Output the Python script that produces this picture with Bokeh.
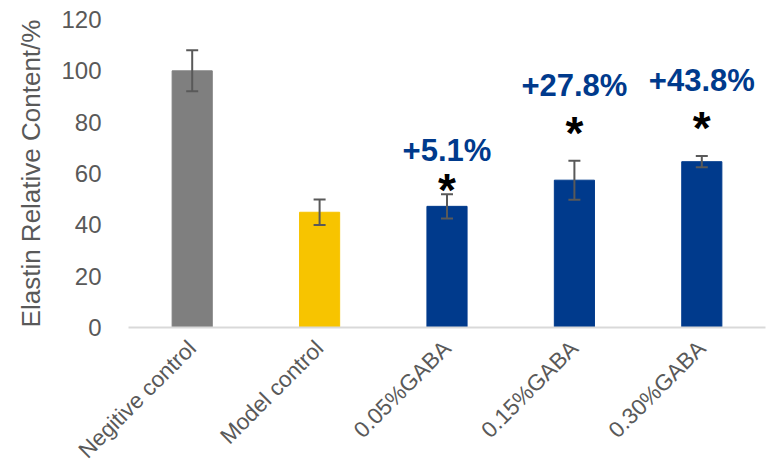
import math
from bokeh.plotting import figure
from bokeh.models import ColumnDataSource, Whisker, TeeHead, FactorRange, Range1d, FixedTicker
from bokeh.core.properties import value
from bokeh.embed import file_html
from bokeh.resources import INLINE

categories = ["Negitive control", "Model control", "0.05%GABA", "0.15%GABA", "0.30%GABA"]
values = [100, 44.9, 47.2, 57.4, 64.6]
errors = [8, 5, 4.7, 7.6, 2.2]
colors = ["#7F7F7F", "#F7C400", "#003A8C", "#003A8C", "#003A8C"]

ann_cats = ["0.05%GABA", "0.15%GABA", "0.30%GABA"]
ann_texts = ["+5.1%", "+27.8%", "+43.8%"]
ann_y = [68.9, 94.2, 96.1]
star_y = [53.7, 75.9, 77.6]
y_ticks = [0, 20, 40, 60, 80, 100, 120]

src = ColumnDataSource(dict(
    cat=categories, val=values, col=colors,
    upper=[v + e for v, e in zip(values, errors)],
    lower=[v - e for v, e in zip(values, errors)],
))

p = figure(x_range=FactorRange(*categories, range_padding=0), y_range=Range1d(0, 120),
           width=771, height=474, output_backend="svg", toolbar_location=None,
           min_border_left=128, min_border_right=6, min_border_top=19, min_border_bottom=147)
p.outline_line_color = None
p.grid.grid_line_color = None
p.background_fill_color = "white"

p.vbar(x="cat", top="val", width=0.315, color="col", source=src)

w = Whisker(base="cat", upper="upper", lower="lower", source=src,
            line_color="#595959", line_width=2, level="overlay")
w.upper_head = TeeHead(size=12, line_color="#595959", line_width=2)
w.lower_head = TeeHead(size=12, line_color="#595959", line_width=2)
p.add_layout(w)

p.text(x=ann_cats, y=ann_y, text=ann_texts, text_align="center", text_baseline="alphabetic",
       text_font=value("Liberation Sans"), text_font_style="bold", text_font_size="31px",
       text_color="#003A8C")
p.text(x=ann_cats, y=star_y, text=["*", "*", "*"], text_align="center", text_baseline="alphabetic",
       text_font=value("Liberation Sans"), text_font_style="bold", text_font_size="46px",
       text_color="black")

p.yaxis.ticker = FixedTicker(ticks=y_ticks)
p.yaxis.axis_line_color = None
p.yaxis.major_tick_line_color = None
p.yaxis.major_tick_out = 0
p.yaxis.major_tick_in = 0
p.yaxis.minor_tick_line_color = None
p.yaxis.major_label_text_font = "Liberation Sans"
p.yaxis.major_label_text_font_size = "24px"
p.yaxis.major_label_text_color = "#595959"
p.yaxis.major_label_standoff = 27
p.yaxis.axis_label = "Elastin Relative Content/%"
p.yaxis.axis_label_text_font = "Liberation Sans"
p.yaxis.axis_label_text_font_size = "26px"
p.yaxis.axis_label_text_font_style = "normal"
p.yaxis.axis_label_text_color = "#595959"
p.yaxis.axis_label_standoff = 12

p.xaxis.axis_line_color = "#D9D9D9"
p.xaxis.axis_line_width = 2
p.xaxis.major_tick_line_color = None
p.xaxis.major_tick_out = 0
p.xaxis.major_tick_in = 0
p.xaxis.minor_tick_line_color = None
p.xaxis.major_label_orientation = math.pi / 4
p.xaxis.major_label_text_font = "Liberation Sans"
p.xaxis.major_label_text_font_size = "22.5px"
p.xaxis.major_label_text_color = "#595959"
p.xaxis.major_label_standoff = 17

open("out.html", "w").write(file_html(p, INLINE))
